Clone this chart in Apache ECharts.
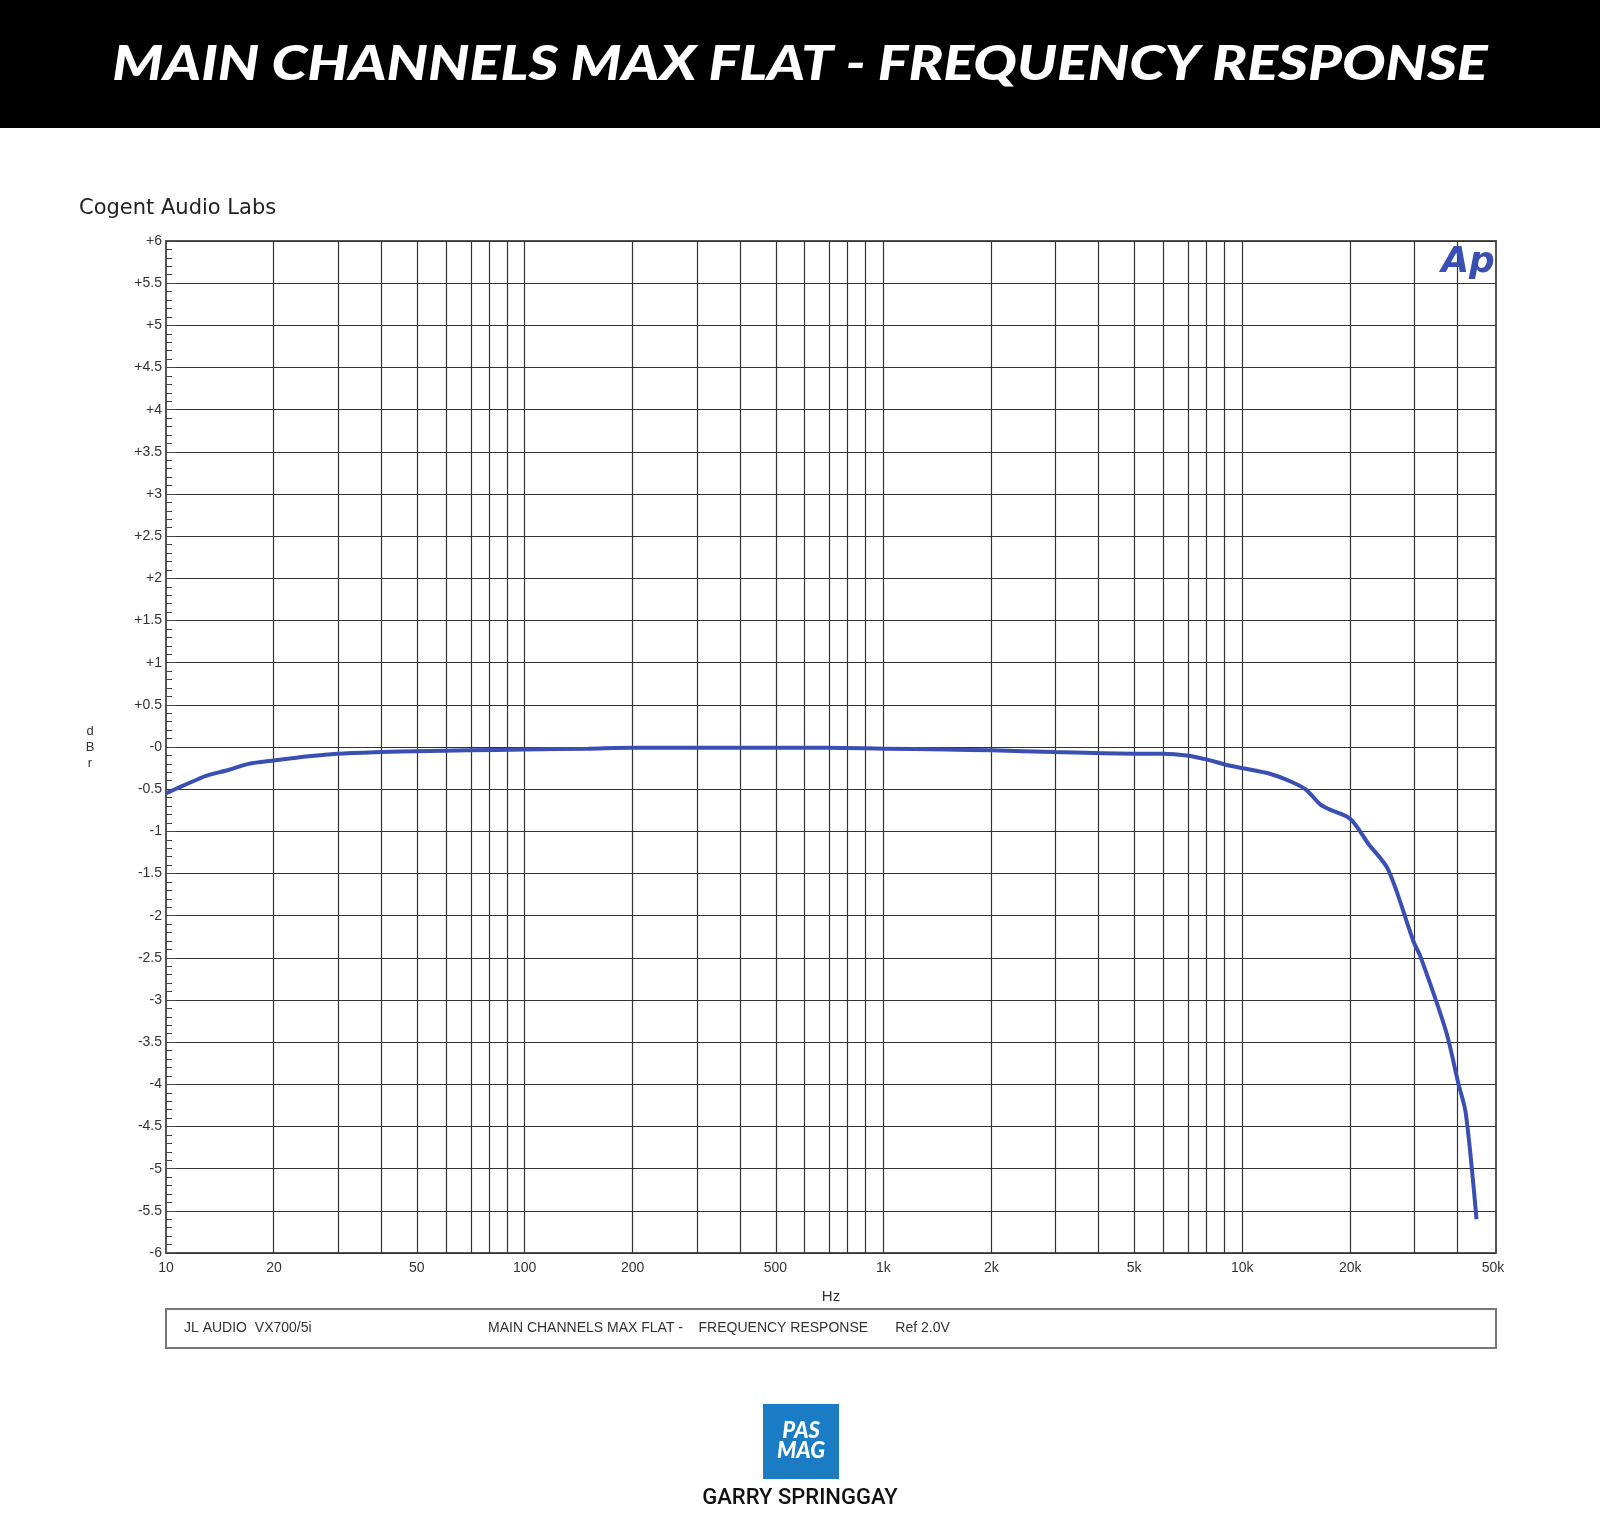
<!DOCTYPE html>
<html>
<head>
<meta charset="utf-8">
<script src="https://cdn.jsdelivr.net/npm/echarts@6/dist/echarts.min.js"></script>
<style>
html, body { margin: 0; padding: 0; background: #fff; }
#chart { width: 1600px; height: 1537px; }
</style>
</head>
<body>
<div id="chart"></div>
<script>
// measured response, frequency in Hz and level in dBr
const freqs = [10, 11, 12, 13, 15, 17, 20, 25, 30, 40, 50, 70, 100, 150, 200, 300, 500, 700, 1000, 1500, 2000, 3000, 5000, 6000, 7000, 8000, 9000, 10000, 12000, 13500, 15000, 16500, 17500, 20000, 22500, 25500, 30000, 31500, 37000, 40000, 42000, 45000];
const levels = [-0.55, -0.47, -0.4, -0.34, -0.27, -0.2, -0.16, -0.11, -0.08, -0.06, -0.05, -0.04, -0.03, -0.02, -0.01, -0.01, -0.01, -0.01, -0.02, -0.03, -0.04, -0.06, -0.08, -0.08, -0.1, -0.15, -0.21, -0.25, -0.32, -0.4, -0.5, -0.68, -0.74, -0.85, -1.15, -1.45, -2.3, -2.5, -3.37, -3.98, -4.34, -5.6];

const xLabelFreqs = [10, 20, 50, 100, 200, 500, 1000, 2000, 5000, 10000, 20000, 50000];
const gridFreqs = [20, 30, 40, 50, 60, 70, 80, 90, 100, 200, 300, 400, 500, 600, 700, 800, 900, 1000, 2000, 3000, 4000, 5000, 6000, 7000, 8000, 9000, 10000, 20000, 30000, 40000];

const fmtHz = function (f) { return f >= 1000 ? (f / 1000) + 'k' : String(f); };
const fmtDb = function (v) {
  if (Math.abs(v) < 1e-9) return '-0';
  return (v > 0 ? '+' : '') + (Math.round(v * 10) / 10);
};
const lg = function (f) { return Math.log10(f); };

const chart = echarts.init(document.getElementById('chart'));
const labelFont = { color: '#333', fontSize: 14, fontFamily: 'Liberation Sans Narrow, Liberation Sans, sans-serif' };

const option = {
  backgroundColor: '#fff',
  animation: false,
  grid: { left: 166, right: 104, top: 241, bottom: 284, show: true, borderColor: '#555', borderWidth: 2 },
  xAxis: {
    type: 'value', min: 1, max: Math.log10(51000),
    axisLine: { show: false }, axisTick: { show: false }, splitLine: { show: false },
    axisLabel: Object.assign({
      customValues: xLabelFreqs.map(lg),
      formatter: function (v) { return fmtHz(Math.round(Math.pow(10, v))); },
      margin: 8
    }, labelFont)
  },
  yAxis: {
    type: 'value', min: -6, max: 6, interval: 0.5,
    axisLine: { show: false },
    axisTick: { show: true, inside: true, length: 10, lineStyle: { color: '#444' } },
    minorTick: { show: true, splitNumber: 5, length: 6, lineStyle: { color: '#444' } },
    splitLine: { show: true, lineStyle: { color: '#333', width: 1.2 } },
    axisLabel: Object.assign({ formatter: fmtDb, margin: 4 }, labelFont)
  },
  series: [{
    type: 'line',
    data: freqs.map(function (f, i) { return [lg(f), levels[i]]; }),
    showSymbol: false, smooth: 0.3,
    lineStyle: { color: '#3a4fb2', width: 4 },
    markLine: {
      silent: true, symbol: 'none', label: { show: false },
      lineStyle: { color: '#333', width: 1.2, type: 'solid' },
      data: gridFreqs.map(function (f) { return { xAxis: lg(f) }; })
    },
    z: 5
  }],
  graphic: [
    { type: 'rect', shape: { x: 0, y: 0, width: 1600, height: 128 }, style: { fill: '#000' } },
    { type: 'text', x: 800, y: 65, scaleX: 1.2, style: { text: 'MAIN CHANNELS MAX FLAT - FREQUENCY RESPONSE', fill: '#fff', font: 'italic 900 48px Lato, "Open Sans", sans-serif', align: 'center', verticalAlign: 'middle' } },
    { type: 'text', x: 79, y: 209, style: { text: 'Cogent Audio Labs', fill: '#222', font: '21px "DejaVu Sans", sans-serif', verticalAlign: 'middle' } },
    { type: 'text', x: 90, y: 747, style: { text: 'd\nB\nr', fill: '#333', font: '13px "Liberation Sans", sans-serif', align: 'center', verticalAlign: 'middle', lineHeight: 16 } },
    { type: 'text', x: 1468, y: 263, z: 10, style: { text: 'Ap', fill: '#3a4fb2', font: 'italic 900 36px "DejaVu Sans", sans-serif', align: 'center', verticalAlign: 'middle' } },
    { type: 'text', x: 831, y: 1297, style: { text: 'Hz', fill: '#333', font: '15px "Liberation Sans Narrow", sans-serif', align: 'center', verticalAlign: 'middle' } },
    { type: 'rect', shape: { x: 166, y: 1309, width: 1330, height: 39 }, style: { fill: '#fff', stroke: '#777', lineWidth: 2 } },
    { type: 'text', x: 184, y: 1328, style: { text: 'JL AUDIO  VX700/5i', fill: '#333', font: '14px "Liberation Sans Narrow", sans-serif', verticalAlign: 'middle' } },
    { type: 'text', x: 488, y: 1328, style: { text: 'MAIN CHANNELS MAX FLAT -    FREQUENCY RESPONSE       Ref 2.0V', fill: '#333', font: '14px "Liberation Sans Narrow", sans-serif', verticalAlign: 'middle' } },
    { type: 'rect', shape: { x: 763, y: 1404, width: 76, height: 75 }, style: { fill: '#1a7cc4' } },
    { type: 'text', x: 801, y: 1441, style: { text: 'PAS\nMAG', fill: '#fff', font: 'italic 900 22px Lato, sans-serif', align: 'center', verticalAlign: 'middle', lineHeight: 20 } },
    { type: 'text', x: 800, y: 1498, style: { text: 'GARRY SPRINGGAY', fill: '#111', font: '500 22px Roboto, sans-serif', align: 'center', verticalAlign: 'middle' } }
  ]
};
chart.setOption(option);
</script>
</body>
</html>
